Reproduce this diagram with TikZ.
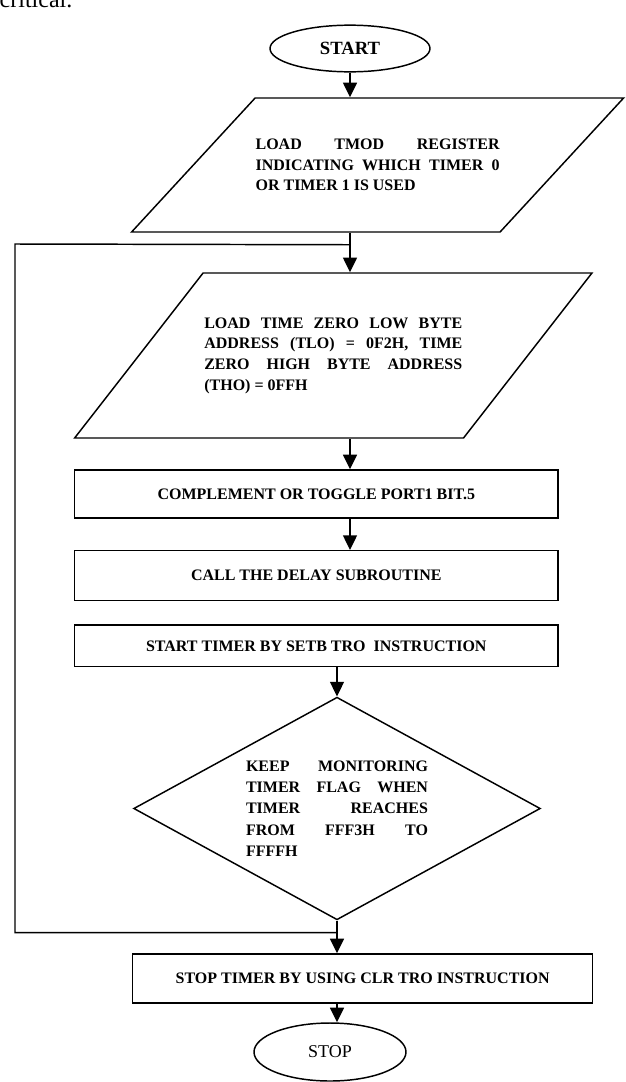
\documentclass[tikz,border=0pt]{standalone}
\usepackage{fontspec}
\setmainfont{Liberation Serif}
\usetikzlibrary{positioning, arrows.meta, shapes.geometric}

\begin{document}
\begin{tikzpicture}[x=0.75pt, y=-0.75pt, line width=1.1pt,
  term/.style={draw, ellipse, inner sep=0pt},
  io/.style={draw, trapezium, trapezium stretches body, inner xsep=0pt,
    font=\bfseries\fontsize{12}{15.5}\selectfont},
  proc/.style={draw, rectangle, inner sep=2pt, minimum width=362.6pt,
    font=\bfseries\fontsize{12}{15}\selectfont},
  decide/.style={draw, diamond, aspect=1.83, inner sep=0pt,
    font=\bfseries\fontsize{12}{15.9}\selectfont},
  arr/.style={-{Triangle[length=11pt, width=10.5pt]}}]
  \useasboundingbox (0,0) rectangle (625,1082);
  % page text above the chart
  \node[anchor=base west, inner sep=0pt, font=\fontsize{18}{20}\selectfont] (crit) at (-1,7.5) {critical.};
  % terminals, inputs and steps
  \node[term, minimum width=120pt, minimum height=35pt, font=\bfseries\fontsize{14}{16}\selectfont] (start) at (350,48.5) {START};
  \node[io, inner ysep=20.25pt, minimum width=369pt, minimum height=100.5pt,
    trapezium left angle=47.33, trapezium right angle=132.67] (tmod) at (377.6,165)
    {\parbox[c][60pt][c]{183pt}{LOAD TMOD REGISTER\linebreak INDICATING WHICH TIMER 0\linebreak OR TIMER 1 IS USED}};
  \node[io, inner ysep=21.875pt, minimum width=388pt, minimum height=123.75pt,
    trapezium left angle=52.1, trapezium right angle=127.9] (tload) at (333.3,355.5)
    {\parbox[c][80pt][c]{193.5pt}{LOAD TIME ZERO LOW BYTE\linebreak ADDRESS (TLO) = 0F2H, TIME\linebreak ZERO HIGH BYTE ADDRESS\linebreak (THO) = 0FFH}};
  \node[proc, minimum height=36pt] (toggle) at (316.3,494) {COMPLEMENT OR TOGGLE PORT1 BIT.5};
  \node[proc, minimum height=37.5pt] (delay) at (316.3,575.7) {CALL THE DELAY SUBROUTINE};
  \node[proc, minimum height=31.3pt] (setb) at (316.3,645.8) {START TIMER BY SETB TRO\ \ INSTRUCTION};
  \node[decide, minimum width=305pt, minimum height=167pt] (flag) at (337,808.5)
    {\parbox[c][90pt][c]{136.5pt}{KEEP MONITORING\linebreak TIMER FLAG WHEN\linebreak TIMER REACHES\linebreak FROM FFF3H TO\linebreak FFFFH}};
  \node[proc, minimum width=345pt, minimum height=36.75pt] (clr) at (362.7,978.5) {STOP TIMER BY USING CLR TRO INSTRUCTION};
  \node[term, minimum width=114pt, minimum height=43.5pt, font=\fontsize{13.5}{16}\selectfont] (stop) at (330,1052) {STOP};
  % junctions of the loop
  \path (tmod.south -| start) ++(0,12) coordinate (backin);
  \path (flag.south) ++(0,12) coordinate (backout);
  \coordinate (lefttop) at (15,244);
  % connectors
  \draw[arr] (start) -- (start |- tmod.north);
  \draw (start |- tmod.south) -- (backin);
  \draw[arr] (backin) -- (backin |- tload.north);
  \draw[arr] (backin |- tload.south) -- (backin |- toggle.north);
  \draw[arr] (backin |- toggle.south) -- (backin |- delay.north);
  \draw[arr] (setb.south -| flag.north) -- (flag.north);
  \draw[arr] (flag.south) -- (clr.north -| flag.south);
  \draw[arr] (clr.south -| flag.south) -- (stop.north -| flag.south);
  \draw (backout) -| (lefttop) -- (backin);
\end{tikzpicture}
\end{document}
